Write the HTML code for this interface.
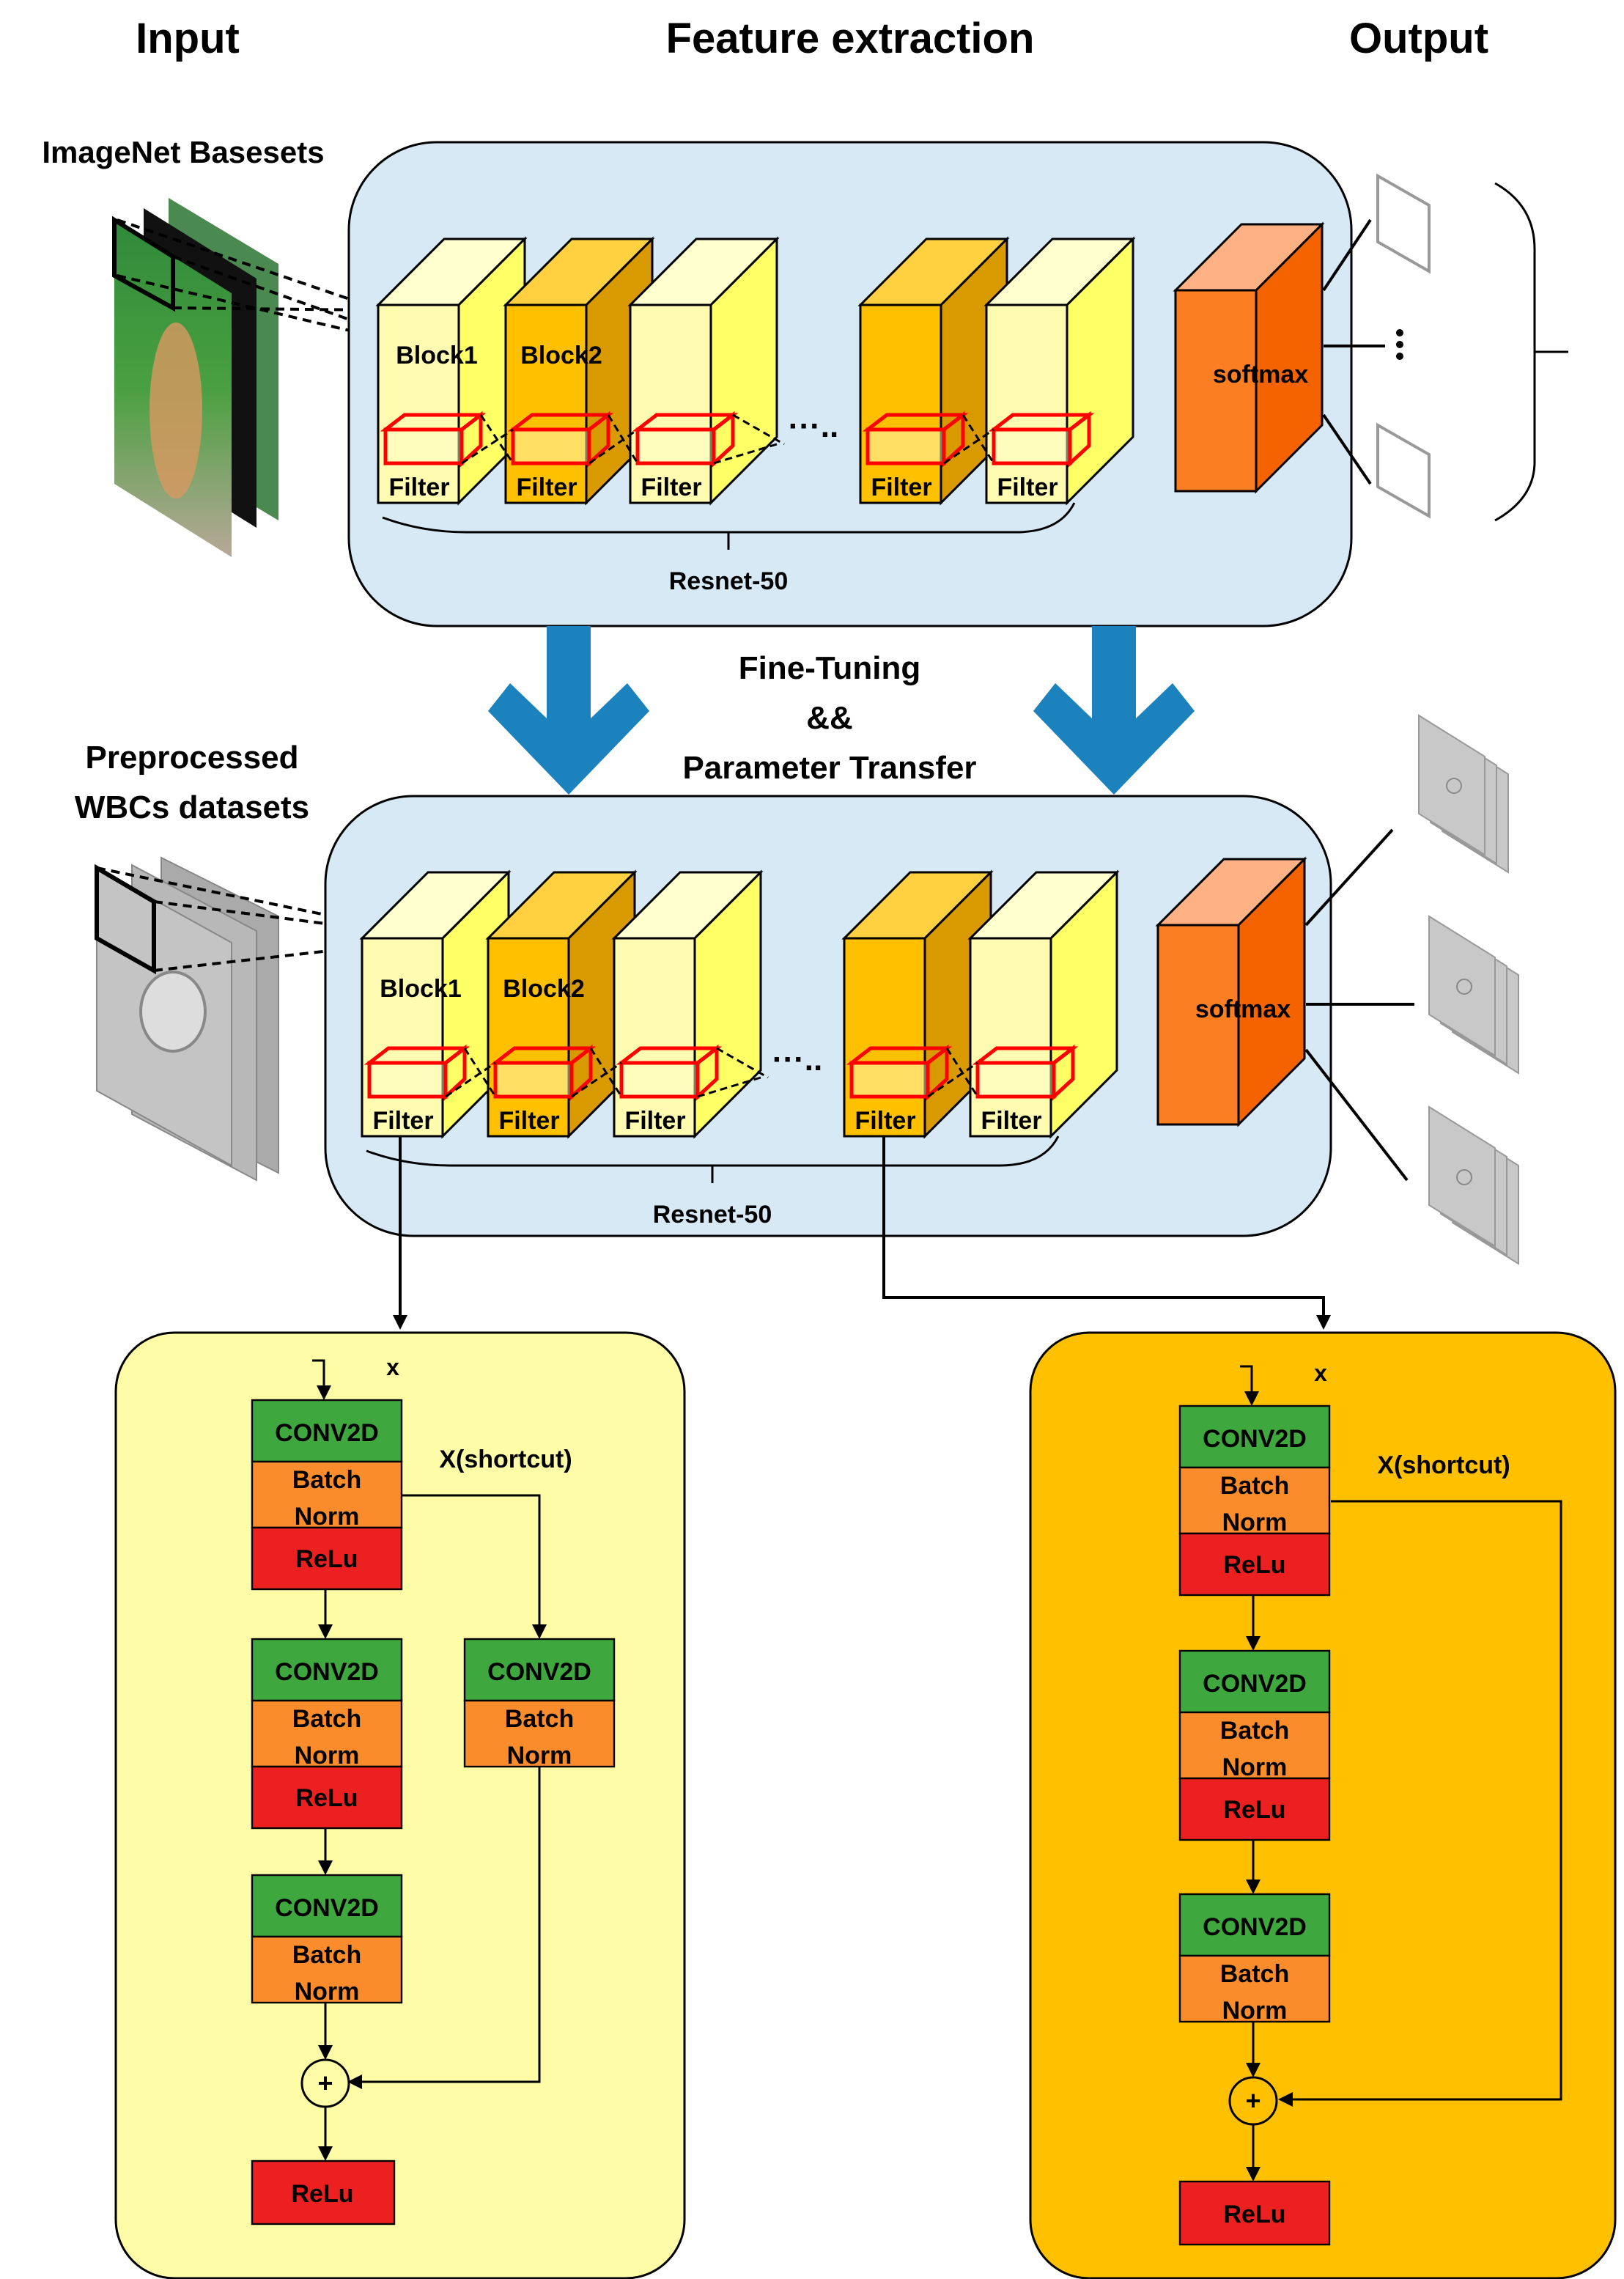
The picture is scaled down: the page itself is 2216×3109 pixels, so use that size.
<!DOCTYPE html>
<html><head><meta charset="utf-8">
<style>
html,body{margin:0;padding:0;background:#fff;}
svg{display:block;}
text{font-family:"Liberation Sans",sans-serif;font-weight:bold;}
</style></head>
<body>
<svg id="s" width="2216" height="3109" viewBox="0 0 1108 1554.5" xmlns="http://www.w3.org/2000/svg">
<defs>
<marker id="ar" markerWidth="10" markerHeight="10" refX="8" refY="5" orient="auto" markerUnits="userSpaceOnUse"><path d="M0,0 L10,5 L0,10 z" fill="#000"/></marker>
<linearGradient id="cat" x1="0" y1="0" x2="0" y2="1"><stop offset="0" stop-color="#2f8a3a"/><stop offset="0.5" stop-color="#4aa040"/><stop offset="1" stop-color="#b8a898"/></linearGradient>
</defs>
<g id="g"></g>
</svg>
<script>
var out=[];
function p(s){out.push(s);}
function T(x,y,t,fs,anchor,fill){p('<text x="'+x+'" y="'+y+'" font-size="'+fs+'" text-anchor="'+(anchor||'middle')+'" fill="'+(fill||'#000')+'">'+t+'</text>');}
function box(x,y,w,h,d,front,side,top){
 p('<polygon points="'+x+','+y+' '+(x+d)+','+(y-d)+' '+(x+w+d)+','+(y-d)+' '+(x+w)+','+y+'" fill="'+top+'" stroke="#000" stroke-width="1.5"/>');
 p('<polygon points="'+(x+w)+','+y+' '+(x+w+d)+','+(y-d)+' '+(x+w+d)+','+(y+h-d)+' '+(x+w)+','+(y+h)+'" fill="'+side+'" stroke="#000" stroke-width="1.5"/>');
 p('<rect x="'+x+'" y="'+y+'" width="'+w+'" height="'+h+'" fill="'+front+'" stroke="#000" stroke-width="1.5"/>');
}
function filt(x,y){
 p('<polygon points="'+x+','+(y+10)+' '+(x+13)+','+y+' '+(x+65)+','+y+' '+(x+52)+','+(y+10)+'" fill="none" stroke="#f00" stroke-width="2.5"/>');
 p('<polygon points="'+(x+52)+','+(y+10)+' '+(x+65)+','+y+' '+(x+65)+','+(y+21)+' '+(x+52)+','+(y+33)+'" fill="none" stroke="#f00" stroke-width="2.5"/>');
 p('<rect x="'+x+'" y="'+(y+10)+'" width="52" height="23" fill="rgba(255,255,200,0.5)" stroke="#f00" stroke-width="2.5"/>');
}
var LY='#fffbb0',LYS='#ffff66',LYT='#ffffd0',OR='#ffc000',ORS='#d99a00',ORT='#ffd040';
function panel(px,py,pw,ph,xs,fy,fh,sx,sy,sh,ry,lbl){
 p('<rect x="'+px+'" y="'+py+'" width="'+pw+'" height="'+ph+'" rx="60" fill="#d8e9f6" stroke="#000" stroke-width="1.5"/>');
 var cols=[[LY,LYS,LYT],[OR,ORS,ORT],[LY,LYS,LYT],[OR,ORS,ORT],[LY,LYS,LYT]];
 for(var i=0;i<5;i++){box(xs[i],fy,55,fh,45,cols[i][0],cols[i][1],cols[i][2]);}
 for(var i=0;i<5;i++){filt(xs[i]+5,fy+75);T(xs[i]+28,fy+fh-5,'Filter',17);}
 for(var i=0;i<4;i++){ if(i==2) continue; p('<path d="M'+(xs[i]+70)+','+(fy+75)+' L'+(xs[i+1]+5)+','+(fy+108)+' M'+(xs[i]+57)+','+(fy+108)+' L'+(xs[i+1]+5)+','+(fy+85)+'" stroke="#000" stroke-width="1.5" stroke-dasharray="5,3" fill="none"/>');}
 p('<path d="M'+(xs[2]+70)+','+(fy+75)+' L'+(xs[2]+105)+','+(fy+95)+' M'+(xs[2]+57)+','+(fy+108)+' L'+(xs[2]+100)+','+(fy+95)+'" stroke="#000" stroke-width="1.5" stroke-dasharray="5,3" fill="none"/>');
 T(xs[2]+125,fy+90,'\u00b7\u00b7\u00b7..',22);
 T(xs[0]+40,fy+40,'Block1',17);T(xs[1]+38,fy+40,'Block2',17);
 box(sx,sy,55,sh,45,'#fb7f22','#f46300','#fdb184');
 T(sx+58,sy+63,'softmax',17);
 p('<path d="M'+(xs[0]+3)+','+(fy+fh+10)+' Q'+(xs[0]+30)+','+(fy+fh+20)+' '+(xs[0]+60)+','+(fy+fh+20)+' L'+(xs[4]+20)+','+(fy+fh+20)+' Q'+(xs[4]+50)+','+(fy+fh+20)+' '+(xs[4]+60)+','+(fy+fh)+'" fill="none" stroke="#000" stroke-width="1.5"/>');
 p('<line x1="'+((xs[0]+xs[4]+63)/2)+'" y1="'+(fy+fh+20)+'" x2="'+((xs[0]+xs[4]+63)/2)+'" y2="'+(fy+fh+32)+'" stroke="#000" stroke-width="1.5"/>');
 T((xs[0]+xs[4]+63)/2,ry,lbl,17);
}
T(128,36,'Input',29);T(580,36,'Feature extraction',29);T(968,36,'Output',29);
T(125,111,'ImageNet Basesets',21);
p('<polygon points="115,135 190,180 190,355 115,310" fill="#4a8a50"/>');
p('<polygon points="98,142 175,190 175,360 98,312" fill="#111"/>');
p('<polygon points="78,150 158,200 158,380 78,330" fill="url(#cat)"/>');
p('<ellipse cx="120" cy="280" rx="18" ry="60" fill="#d89860" opacity="0.8"/>');
p('<polygon points="78,150 118,175 118,210 78,188" fill="none" stroke="#000" stroke-width="3"/>');
p('<path d="M80,150 L300,225 M118,175 L300,240 M118,210 L300,212 M80,188 L300,240" stroke="#000" stroke-width="2" stroke-dasharray="6,4" fill="none"/>');
panel(238,97,684,330,[258,345,430,587,673],208,135,802,198,137,402,'Resnet-50');
p('<path d="M903,198 L935,150 M903,236 L945,236 M903,283 L935,330" stroke="#000" stroke-width="2" fill="none"/>');
p('<polygon points="940,120 975,140 975,185 940,165" fill="#fff" stroke="#999" stroke-width="2"/>');
p('<polygon points="940,290 975,310 975,352 940,332" fill="#fff" stroke="#999" stroke-width="2"/>');
p('<circle cx="955" cy="227" r="2.5"/><circle cx="955" cy="235" r="2.5"/><circle cx="955" cy="243" r="2.5"/>');
p('<path d="M1020,125 Q1047,140 1047,170 L1047,315 Q1047,340 1020,355 M1047,240 L1052,240 L1070,240" fill="none" stroke="#000" stroke-width="1.5"/>');
function barr(cx){p('<polygon points="'+(cx-15)+',427 '+(cx+15)+',427 '+(cx+15)+',490 '+(cx+40)+',466 '+(cx+55)+',485 '+cx+',542 '+(cx-55)+',485 '+(cx-40)+',466 '+(cx-15)+',490" fill="#1b82bd"/>');}
barr(388);barr(760);
T(566,463,'Fine-Tuning',22);T(566,497,'&amp;&amp;',22);T(566,531,'Parameter Transfer',22);
T(131,524,'Preprocessed',22);T(131,558,'WBCs  datasets',22);
p('<polygon points="110,585 190,625 190,800 110,760" fill="#aaa" stroke="#888"/>');
p('<polygon points="90,590 175,635 175,805 90,760" fill="#b8b8b8" stroke="#888"/>');
p('<polygon points="66,592 158,643 158,795 66,744" fill="#c4c4c4" stroke="#888"/>');
p('<ellipse cx="118" cy="690" rx="22" ry="27" fill="#ddd" stroke="#888" stroke-width="2"/>');
p('<polygon points="66,592 105,615 105,662 66,640" fill="none" stroke="#000" stroke-width="3"/>');
p('<path d="M105,615 L300,640 M105,662 L300,640 M66,592 L300,640" stroke="#000" stroke-width="2" stroke-dasharray="6,4" fill="none"/>');
panel(222,543,686,300,[247,333,419,576,662],640,135,790,631,136,834,'Resnet-50');
p('<path d="M891,631 L950,566 M891,685 L965,685 M891,716 L960,805" stroke="#000" stroke-width="2" fill="none"/>');
function stk(x,y){for(var k=2;k>=0;k--){var dx=k*8,dy=k*6;p('<polygon points="'+(x+dx)+','+(y+dy)+' '+(x+dx+45)+','+(y+dy+28)+' '+(x+dx+45)+','+(y+dy+95)+' '+(x+dx)+','+(y+dy+67)+'" fill="#c8c8c8" stroke="#999"/>');}
 p('<circle cx="'+(x+24)+'" cy="'+(y+48)+'" r="5" fill="none" stroke="#888"/>');}
stk(968,488);stk(975,625);stk(975,755);
p('<path d="M273,775 L273,905" stroke="#000" stroke-width="2" fill="none" marker-end="url(#ar)"/>');
p('<path d="M603,775 L603,885 L903,885 L903,905" stroke="#000" stroke-width="2" fill="none" marker-end="url(#ar)"/>');
function res(px,pw,fill,bx,ys,sc,cy,ry,xlbl,xs){
 p('<rect x="'+px+'" y="909" width="'+pw+'" height="645" rx="40" fill="'+fill+'" stroke="#000" stroke-width="1.5"/>');
 p('<path d="M'+(bx+41)+','+(ys[0]-27)+' L'+(bx+49)+','+(ys[0]-27)+' L'+(bx+49)+','+(ys[0]-2)+'" stroke="#000" stroke-width="1.5" fill="none" marker-end="url(#ar)"/>');
 T(bx+96,ys[0]-17,'x',16);
 function unit(x,y,relu){
  p('<rect x="'+x+'" y="'+y+'" width="102" height="42" fill="#3ea83e" stroke="#000" stroke-width="1.2"/>');T(x+51,y+28,'CONV2D',17);
  p('<rect x="'+x+'" y="'+(y+42)+'" width="102" height="45" fill="#fb8c2c" stroke="#000" stroke-width="1.2"/>');T(x+51,y+60,'Batch',17);T(x+51,y+85,'Norm',17);
  if(relu){p('<rect x="'+x+'" y="'+(y+87)+'" width="102" height="42" fill="#ec2020" stroke="#000" stroke-width="1.2"/>');T(x+51,y+114,'ReLu',17);}
 }
 unit(bx,ys[0],1);unit(bx,ys[1],1);unit(bx,ys[2],0);
 var c=bx+50;
 p('<line x1="'+c+'" y1="'+(ys[0]+129)+'" x2="'+c+'" y2="'+(ys[1]-2)+'" stroke="#000" stroke-width="1.5" marker-end="url(#ar)"/>');
 p('<line x1="'+c+'" y1="'+(ys[1]+129)+'" x2="'+c+'" y2="'+(ys[2]-2)+'" stroke="#000" stroke-width="1.5" marker-end="url(#ar)"/>');
 p('<line x1="'+c+'" y1="'+(ys[2]+87)+'" x2="'+c+'" y2="'+(cy-18)+'" stroke="#000" stroke-width="1.5" marker-end="url(#ar)"/>');
 p('<line x1="'+c+'" y1="'+(cy+16)+'" x2="'+c+'" y2="'+(ry-2)+'" stroke="#000" stroke-width="1.5" marker-end="url(#ar)"/>');
 p('<circle cx="'+c+'" cy="'+cy+'" r="16" fill="'+fill+'" stroke="#000" stroke-width="1.5"/>');T(c,cy+6,'+',18);
 p('<rect x="'+bx+'" y="'+ry+'" width="'+(xs?102:97)+'" height="43" fill="#ec2020" stroke="#000" stroke-width="1.2"/>');T(bx+(xs?51:48),ry+28,'ReLu',17);
 T(xlbl[0],xlbl[1],'X(shortcut)',17);
 sc();
}
res(79,388,'#fffca8',172,[955,1118,1279],function(){
 p('<rect x="317" y="1118" width="102" height="42" fill="#3ea83e" stroke="#000" stroke-width="1.2"/>');T(368,1146,'CONV2D',17);
 p('<rect x="317" y="1160" width="102" height="45" fill="#fb8c2c" stroke="#000" stroke-width="1.2"/>');T(368,1178,'Batch',17);T(368,1203,'Norm',17);
 p('<path d="M274,1020 L368,1020 L368,1116" stroke="#000" stroke-width="1.5" fill="none" marker-end="url(#ar)"/>');
 p('<path d="M368,1205 L368,1420 L239,1420" stroke="#000" stroke-width="1.5" fill="none" marker-end="url(#ar)"/>');
},1421,1474,[345,1001],0);
res(703,399,'#ffc000',805,[959,1126,1292],function(){
 p('<path d="M908,1024 L1065,1024 L1065,1432 L874,1432" stroke="#000" stroke-width="1.5" fill="none" marker-end="url(#ar)"/>');
},1433,1488,[985,1005],1);
document.getElementById('g').innerHTML=out.join('');
</script>
</body></html>
